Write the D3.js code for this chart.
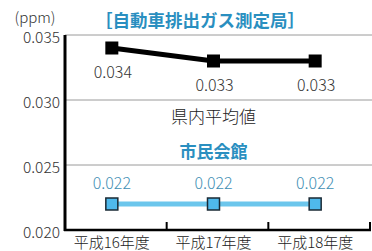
<!DOCTYPE html>
<html><head><meta charset="utf-8">
<script src="https://cdn.jsdelivr.net/npm/d3@7"></script>
<style>
html,body{margin:0;padding:0;background:#fff;}
svg{display:block;}
text{font-family:"Noto Sans CJK JP","Noto Sans",sans-serif;}
</style></head>
<body>
<svg id="chart" width="372" height="251"></svg>
<script>
const categories = ["平成16年度", "平成17年度", "平成18年度"];
const prefAverage = [0.034, 0.033, 0.033];
const cityHall = [0.022, 0.022, 0.022];
const yTicks = [0.020, 0.025, 0.030, 0.035];
const yTickLabels = ["0.020", "0.025", "0.030", "0.035"];
const title = "［自動車排出ガス測定局］";
const unitLabel = "(ppm)";
const series1Name = "県内平均値";
const series2Name = "市民会館";

const svg = d3.select("#chart");
const x = d3.scaleBand().domain(categories).range([65, 370]);
const px = c => x(c) + x.bandwidth() / 2 - 4;
const y = d3.scaleLinear().domain([0.020, 0.035]).range([230, 35]);

// gridlines
svg.append("g").selectAll("line").data(yTicks.filter(t => t > 0.020)).join("line")
  .attr("x1", 65).attr("x2", 372)
  .attr("y1", d => y(d)).attr("y2", d => y(d))
  .attr("stroke", "#9a9a9a").attr("stroke-width", 1);

// y tick labels
svg.append("g").selectAll("text").data(yTicks).join("text")
  .attr("x", 60).attr("y", (d) => y(d) + 1)
  .attr("text-anchor", "end").attr("dominant-baseline", "central")
  .attr("font-size", 15.5).attr("font-weight", 300).attr("fill", "#333")
  .text((d, i) => yTickLabels[i]);

// x axis
const xAxis = d3.axisBottom(x).tickSize(0).tickFormat("");
svg.append("g").attr("transform", "translate(0,230)").call(xAxis)
  .call(g => g.select(".domain").remove());
svg.append("line").attr("x1", 64).attr("x2", 371).attr("y1", 230).attr("y2", 230)
  .attr("stroke", "#000").attr("stroke-width", 2.5);
// band boundary ticks
svg.append("g").selectAll("line").data(categories).join("line")
  .attr("x1", d => x(d) + x.bandwidth()).attr("x2", d => x(d) + x.bandwidth())
  .attr("y1", 230).attr("y2", 222)
  .attr("stroke", "#000").attr("stroke-width", 2);
// y axis line
svg.append("line").attr("x1", 65).attr("x2", 65).attr("y1", 35).attr("y2", 231)
  .attr("stroke", "#000").attr("stroke-width", 3);

// x labels
svg.append("g").selectAll("text").data(categories).join("text")
  .attr("x", d => px(d)).attr("y", 241)
  .attr("text-anchor", "middle").attr("dominant-baseline", "central")
  .attr("font-size", 15).attr("font-weight", 300).attr("fill", "#222")
  .text(d => d);

const line = d3.line().x((d, i) => px(categories[i])).y(d => y(d));

// series 1 (black)
svg.append("path").datum(prefAverage).attr("d", line)
  .attr("fill", "none").attr("stroke", "#000").attr("stroke-width", 5);
svg.append("g").selectAll("rect").data(prefAverage).join("rect")
  .attr("x", (d, i) => px(categories[i]) - 6.5).attr("y", d => y(d) - 6.5)
  .attr("width", 13).attr("height", 13).attr("fill", "#000");
svg.append("g").selectAll("text").data(prefAverage).join("text")
  .attr("x", (d, i) => px(categories[i]) + 1).attr("y", d => y(d) + 23)
  .attr("text-anchor", "middle").attr("dominant-baseline", "central")
  .attr("font-size", 16).attr("font-weight", 300).attr("fill", "#333")
  .text(d => d.toFixed(3));

// series 2 (blue)
svg.append("path").datum(cityHall).attr("d", line)
  .attr("fill", "none").attr("stroke", "#6cc6ec").attr("stroke-width", 5);
svg.append("g").selectAll("rect").data(cityHall).join("rect")
  .attr("x", (d, i) => px(categories[i]) - 6).attr("y", d => y(d) - 6)
  .attr("width", 12).attr("height", 12)
  .attr("fill", "#4fb9ec").attr("stroke", "#1a2a35").attr("stroke-width", 1.5);
svg.append("g").selectAll("text").data(cityHall).join("text")
  .attr("x", (d, i) => px(categories[i])).attr("y", d => y(d) - 22)
  .attr("text-anchor", "middle").attr("dominant-baseline", "central")
  .attr("font-size", 16).attr("font-weight", 300).attr("fill", "#3f8fb4")
  .text(d => d.toFixed(3));

// series names
svg.append("text").attr("x", px(categories[1])).attr("y", 115)
  .attr("text-anchor", "middle").attr("dominant-baseline", "central")
  .attr("font-size", 17).attr("font-weight", 300).attr("fill", "#222").text(series1Name);
svg.append("text").attr("x", px(categories[1])).attr("y", 150)
  .attr("text-anchor", "middle").attr("dominant-baseline", "central")
  .attr("font-size", 17).attr("font-weight", "bold").attr("fill", "#2a8fc0").text(series2Name);

// title & unit
svg.append("text").attr("x", 200).attr("y", 19)
  .attr("text-anchor", "middle").attr("dominant-baseline", "central")
  .attr("font-size", 17.5).attr("font-weight", "bold").attr("fill", "#2a8fc0").text(title);
svg.append("text").attr("x", 35).attr("y", 16)
  .attr("text-anchor", "middle").attr("dominant-baseline", "central")
  .attr("font-size", 15).attr("font-weight", 300).attr("fill", "#333").text(unitLabel);
</script>
</body></html>
